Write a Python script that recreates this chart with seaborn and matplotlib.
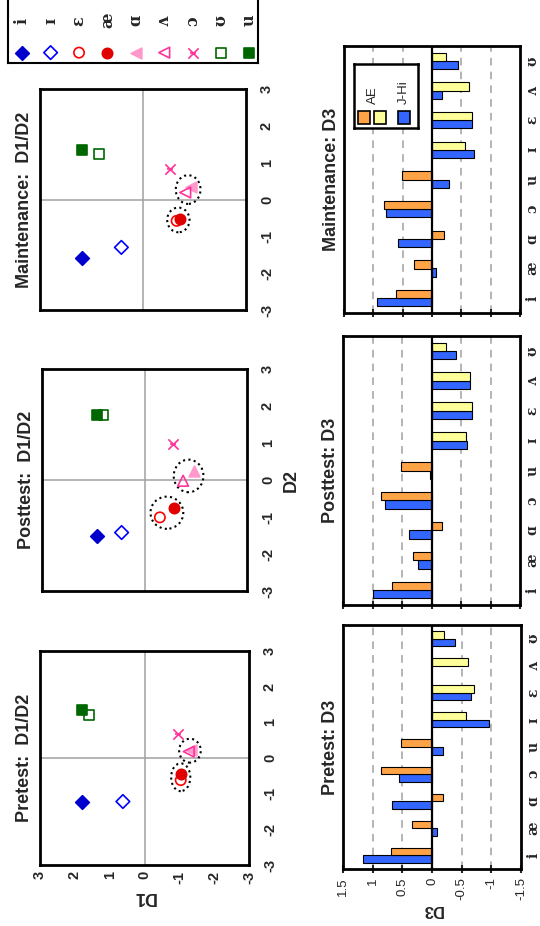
import numpy as np
import pandas as pd
import matplotlib
matplotlib.use("Agg")
import matplotlib.pyplot as plt
from matplotlib.patches import Ellipse, Rectangle
from matplotlib.colors import to_rgba
import seaborn as sns

# --- D1/D2 scores (same vowel order as the marker key) ---
vowels = ['i', 'ɪ', 'ɛ', 'æ', 'ɑ', 'ʌ', 'ɔ', 'ʊ', 'u']

pre_d1 = [1.79, 0.62, -1.04, -1.04, -1.34, -1.27, -0.96, 1.60, 1.79]
pre_d2 = [-1.24, -1.22, -0.62, -0.46, 0.23, 0.18, 0.68, 1.21, 1.34]
post_d1 = [1.40, 0.67, -0.45, -0.86, -1.45, -1.13, -0.84, 1.20, 1.40]
post_d2 = [-1.50, -1.42, -1.01, -0.76, 0.24, -0.02, 0.96, 1.76, 1.75]
maint_d1 = [1.78, 0.63, -0.98, -1.08, -1.40, -1.23, -0.80, 1.29, 1.78]
maint_d2 = [-1.58, -1.30, -0.58, -0.53, 0.35, 0.19, 0.82, 1.24, 1.35]

# pairs that are ringed in every D1/D2 plot
circled = [('ɛ', 'æ'), ('ɑ', 'ʌ')]

# --- D3 scores ---
bar_vowels = ['i', 'æ', 'ɑ', 'ɔ', 'u', 'ɪ', 'ɛ', 'ʌ', 'ʊ']
lax_vowels = ['ɪ', 'ɛ', 'ʌ', 'ʊ']

pre_ae = [0.69, 0.34, -0.18, 0.86, 0.52, -0.57, -0.70, -0.61, -0.21]
pre_jhi = [1.17, -0.09, 0.68, 0.56, -0.18, -0.96, -0.66, np.nan, -0.39]
post_ae = [0.67, 0.31, -0.17, 0.86, 0.51, -0.58, -0.69, -0.65, -0.25]
post_jhi = [0.99, 0.23, 0.38, 0.78, 0.03, -0.61, -0.69, -0.65, -0.41]
maint_ae = [0.62, 0.30, -0.21, 0.81, 0.51, -0.56, -0.69, -0.63, -0.24]
maint_jhi = [0.93, -0.06, 0.58, 0.78, -0.29, -0.72, -0.69, -0.17, -0.45]

scatter_ticks = [-3, -2, -1, 0, 1, 2, 3]
bar_ticks = [-1.5, -1, -0.5, 0, 0.5, 1, 1.5]
bar_tick_labels = ['-1.5', '-1', '-0.5', '0', '0.5', '1', '1.5']

ORANGE = '#FFA347'
YELLOW = '#FFFF99'
BLUE = '#3366FF'
SANS = ['Liberation Sans', 'DejaVu Sans']
SERIF = ['DejaVu Serif']

styles = {
    'i': dict(marker='D', fc='#0000CC', ec='#0000CC', s=48),
    'ɪ': dict(marker='D', fc='none', ec='#0000FF', s=48),
    'ɛ': dict(marker='o', fc='none', ec='#FF0000', s=55),
    'æ': dict(marker='o', fc='#E00000', ec='#E00000', s=55),
    'ɑ': dict(marker='tri', fc='#FF99CC', ec='#FF99CC', s=60),
    'ʌ': dict(marker='tri', fc='none', ec='#FF3399', s=60),
    'ɔ': dict(marker='x', fc='#FF3399', ec='#FF3399', s=55),
    'ʊ': dict(marker='s', fc='none', ec='#006600', s=50),
    'u': dict(marker='s', fc='#006600', ec='#006600', s=50),
}

sns.set_style("white")
plt.rcParams['font.family'] = SANS

W, H = 540, 926
fig = plt.figure(figsize=(W / 100, H / 100), dpi=100)


def px_axes(x0, y0, x1, y1):
    return fig.add_axes([x0 / W, 1 - y1 / H, (x1 - x0) / W, (y1 - y0) / H])


def draw_point(ax, x, y, v, tri='<'):
    st = styles[v]
    m = tri if st['marker'] == 'tri' else st['marker']
    if m == 'x':
        sns.scatterplot(x=[x], y=[y], marker='x', s=st['s'], color=st['ec'],
                        linewidth=1.2, ax=ax, zorder=4)
        sns.scatterplot(x=[x], y=[y], marker='_', s=st['s'] * 0.45, color=st['ec'],
                        linewidth=1.2, ax=ax, zorder=4)
        return
    sns.scatterplot(x=[x], y=[y], marker=m, s=st['s'], color=st['ec'],
                    facecolor=st['fc'], edgecolor=st['ec'], linewidth=1.2,
                    ax=ax, zorder=4)


def scatter_panel(box, title, d1, d2, tri, show_d1=False, show_d2_label=False):
    ax = px_axes(*box)
    ax.axhline(0, color='#A0A0A0', lw=1.1, zorder=1)
    ax.axvline(0, color='#A0A0A0', lw=1.1, zorder=1)
    for v, x, y in zip(vowels, d1, d2):
        draw_point(ax, x, y, v, tri)
    for a, b in circled:
        ia, ib = vowels.index(a), vowels.index(b)
        cx = (d1[ia] + d1[ib]) / 2
        cy = (d2[ia] + d2[ib]) / 2
        ell = Ellipse((cx, cy), abs(d1[ia] - d1[ib]) + 0.55, abs(d2[ia] - d2[ib]) + 0.62,
                      fill=False, ec='black', lw=1.5, ls=(0, (1, 1.6)), zorder=3)
        ax.add_patch(ell)
    ax.set_xlim(3, -3)
    ax.set_ylim(-3, 3)
    ax.set_xticks(scatter_ticks)
    ax.set_yticks(scatter_ticks)
    ax.yaxis.tick_right()
    ax.set_yticklabels([str(t) for t in scatter_ticks], rotation=90, va='center',
                       fontweight='bold', fontsize=10.5)
    if show_d1:
        ax.set_xticklabels([str(t) for t in scatter_ticks], rotation=90,
                           fontweight='bold', fontsize=10.5)
        ax.set_xlabel('D1', rotation=180, fontweight='bold', fontsize=13, labelpad=3)
    else:
        ax.set_xticklabels([])
        ax.set_xlabel('')
    if show_d2_label:
        ax.yaxis.set_label_position('right')
        ax.set_ylabel('D2', rotation=90, fontweight='bold', fontsize=13, labelpad=6)
    else:
        ax.set_ylabel('')
    ax.tick_params(axis='x', length=0, pad=4)
    ax.tick_params(axis='y', length=0, pad=10)
    for sp in ax.spines.values():
        sp.set_visible(True)
        sp.set_color('black')
        sp.set_linewidth(2)
    ax.text(-0.035, 0.5, title, transform=ax.transAxes, rotation=90,
            ha='right', va='center', fontsize=13, fontweight='bold')
    return ax


def bar_panel(box, title, ae, jhi, show_values=False):
    ax = px_axes(*box)
    df = pd.DataFrame({
        'vowel': bar_vowels * 2,
        'group': ['AE'] * len(bar_vowels) + ['J-Hi'] * len(bar_vowels),
        'value': list(ae) + list(jhi),
    }).dropna()
    sns.barplot(data=df, x='value', y='vowel', hue='group', order=bar_vowels,
                hue_order=['J-Hi', 'AE'], orient='h', width=0.56, saturation=1,
                palette={'AE': ORANGE, 'J-Hi': BLUE}, edgecolor='black',
                linewidth=0.8, errorbar=None, legend=False, ax=ax, zorder=2)
    # AE lax vowels use the light yellow
    for bar in ax.patches:
        idx = int(round(bar.get_y() + bar.get_height() / 2))
        if bar_vowels[idx] in lax_vowels and np.allclose(bar.get_facecolor(), to_rgba(ORANGE)):
            bar.set_facecolor(YELLOW)
    for v in [-1, -0.5, 0.5, 1]:
        ax.axvline(v, color='#A0A0A0', lw=1.1, ls=(0, (5, 4)), zorder=0.5)
    ax.axvline(0, color='black', lw=1.6, zorder=3)
    ax.set_xlim(1.5, -1.5)
    ax.set_ylim(-0.5, len(bar_vowels) - 0.5)
    ax.set_xticks(bar_ticks)
    if show_values:
        ax.set_xticklabels(bar_tick_labels, rotation=90, fontsize=9.5)
        ax.set_xlabel('D3', rotation=180, fontweight='bold', fontsize=12, labelpad=1)
    else:
        ax.set_xticklabels([])
        ax.set_xlabel('')
    ax.yaxis.tick_right()
    ax.set_yticks(range(len(bar_vowels)))
    ax.set_yticklabels(bar_vowels, rotation=90, va='center', fontweight='bold',
                       fontsize=10, family=SERIF)
    ax.set_ylabel('')
    ax.tick_params(axis='x', direction='inout', length=6, width=1.5, pad=3, bottom=True)
    ax.tick_params(axis='y', length=0, pad=4)
    for sp in ax.spines.values():
        sp.set_visible(True)
        sp.set_color('black')
        sp.set_linewidth(2)
    ax.text(-0.025, 0.5, title, transform=ax.transAxes, rotation=90,
            ha='right', va='center', fontsize=13, fontweight='bold')
    return ax


scatter_panel((40, 89, 246, 310), 'Maintenance:  D1/D2', maint_d1, maint_d2, '<')
scatter_panel((42, 369, 247, 591), 'Posttest:  D1/D2', post_d1, post_d2, '^',
              show_d2_label=True)
scatter_panel((40, 651, 249, 865), 'Pretest:  D1/D2', pre_d1, pre_d2, '<', show_d1=True)

ax_m = bar_panel((344, 46, 520, 313), 'Maintenance: D3', maint_ae, maint_jhi)
bar_panel((343, 336, 520, 605), 'Posttest: D3', post_ae, post_jhi)
bar_panel((343, 625, 521, 869), 'Pretest: D3', pre_ae, pre_jhi, show_values=True)

# AE / J-Hi key inside the maintenance D3 panel
key = ax_m.inset_axes([0.056, 0.693, 0.365, 0.24])
key.set_xlim(0, 1)
key.set_ylim(0, 1)
key.set_xticks([])
key.set_yticks([])
key.set_facecolor('white')
for sp in key.spines.values():
    sp.set_visible(True)
    sp.set_color('black')
    sp.set_linewidth(1.8)
for x0, col in [(0.06, ORANGE), (0.31, YELLOW), (0.69, BLUE)]:
    key.add_patch(Rectangle((x0, 0.06), 0.19, 0.21, fc=col, ec='black', lw=1.2))
key.text(0.30, 0.37, 'AE', rotation=90, ha='center', va='bottom', fontsize=9.5)
key.text(0.785, 0.37, 'J-Hi', rotation=90, ha='center', va='bottom', fontsize=9.5)

# vowel marker key (top left)
leg = px_axes(8, -20, 258, 63)
leg.set_xlim(-0.5, len(vowels) - 0.7)
leg.set_ylim(0, 1)
for k, v in enumerate(vowels):
    draw_point(leg, k, 0.125, v, '<')
    leg.text(k, 0.51, v, rotation=90, ha='center', va='center', fontsize=11.5,
             fontweight='bold', family=SERIF)
leg.set_xticks([])
leg.set_yticks([])
for sp in leg.spines.values():
    sp.set_visible(True)
    sp.set_color('black')
    sp.set_linewidth(1.5)

fig.savefig('out.png', dpi=100)
